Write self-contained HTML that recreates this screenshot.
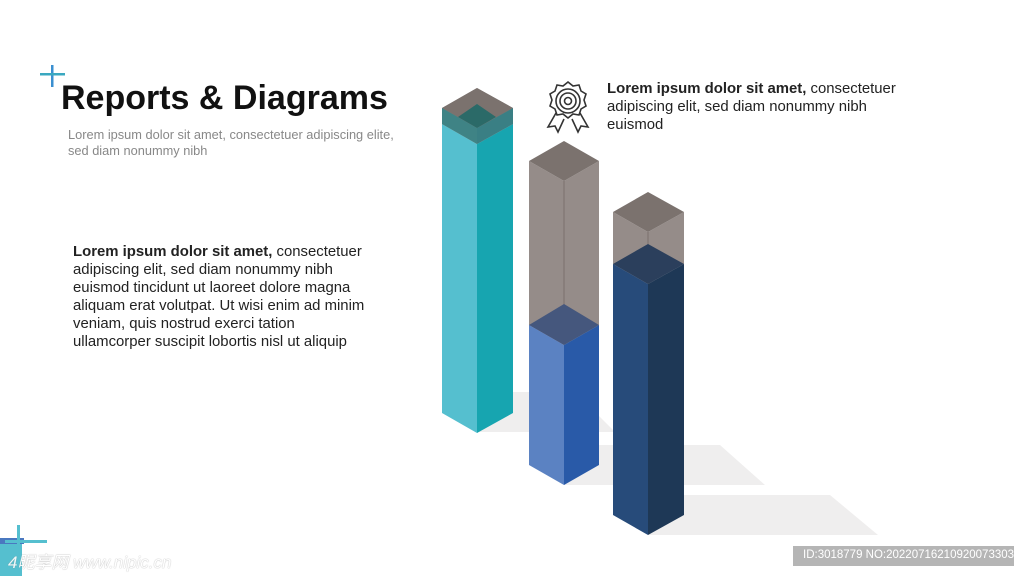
<!DOCTYPE html>
<html><head><meta charset="utf-8"><style>
body{margin:0;width:1024px;height:576px;background:#fff;position:relative;overflow:hidden;font-family:"Liberation Sans",Arial,sans-serif;}
.t{position:absolute;white-space:nowrap;}
</style></head><body>
<svg width="1024" height="576" style="position:absolute;left:0;top:0">
<rect x="51" y="65" width="2.5" height="22" fill="#3a8fd0"/>
<rect x="40" y="73" width="25" height="2.5" fill="#3aa8c0"/>
<polygon points="477,432 513,412 513,392 575,392 615,432" fill="#efeeee"/>
<polygon points="564,485 599,465 599,445 720,445 765,485" fill="#efeeee"/>
<polygon points="648,535 684,515 684,495 830,495 878,535" fill="#efeeee"/>
<!-- bar1 -->
<polygon points="442,124 477,144 477,433 442,413" fill="#55bfcf"/>
<polygon points="477,144 513,124 513,413 477,433" fill="#17a5b0"/>
<polygon points="442,108 477,88 513,108 513,124 477,144 442,124" fill="#8d8581"/>
<polygon points="442,108 477,128 513,108 477,88" fill="#7b726e"/>
<polygon points="458,117 477,104 496,117 477,128" fill="#2b6a68"/>
<polygon points="442,124 477,144 477,128 442,108" fill="#3f8385"/>
<polygon points="477,144 513,124 513,108 477,128" fill="#3a7f84"/>
<!-- bar2 -->
<polygon points="529,161 564,181 564,345 529,325" fill="#958c89"/>
<polygon points="564,181 599,161 599,325 564,345" fill="#958c89"/>
<polygon points="529,161 564,141 599,161 564,181" fill="#7b726e"/>
<line x1="564" y1="181" x2="564" y2="325" stroke="#7a716d" stroke-width="1"/>
<polygon points="529,325 564,345 564,485 529,465" fill="#5b82c2"/>
<polygon points="564,345 599,325 599,465 564,485" fill="#295aa8"/>
<polygon points="529,325 564,304 599,325 564,345" fill="#45577d"/>
<!-- bar3 -->
<polygon points="613,212 648,232 648,284 613,264" fill="#958c89"/>
<polygon points="648,232 684,212 684,264 648,284" fill="#958c89"/>
<polygon points="613,212 648,192 684,212 648,232" fill="#7b726e"/>
<line x1="648" y1="232" x2="648" y2="250" stroke="#7a716d"/>
<polygon points="613,264 648,284 648,535 613,515" fill="#274b7a"/>
<polygon points="648,284 684,264 684,515 648,535" fill="#1e3856"/>
<polygon points="613,264 648,244 684,264 648,284" fill="#2b3f5c"/>
<g fill="none" stroke="#333" stroke-width="1.6">
<path d="M568,82 l5,4 6,-1 2,6 5,3 -2,6 2,6 -5,3 -2,6 -6,-1 -5,4 -5,-4 -6,1 -2,-6 -5,-3 2,-6 -2,-6 5,-3 2,-6 6,1z"/>
<circle cx="568" cy="101" r="12"/><circle cx="568" cy="101" r="8"/><circle cx="568" cy="101" r="3.5"/>
<path d="M556,113 l-8,14 7,-1 3,6 6,-13"/><path d="M580,113 l8,14 -7,-1 -3,6 -6,-13"/>
</g>
<rect x="0" y="540" width="22" height="36" fill="#55bfcf"/>
<rect x="0" y="538" width="24" height="6" fill="#4a78c0"/>
<rect x="17" y="525" width="3" height="51" fill="#55bfcf"/>
<rect x="5" y="540" width="42" height="3" fill="#55bfcf"/>
<rect x="793" y="546" width="221" height="20" fill="#b5b5b5"/>
</svg>
<div class="t" style="left:61px;top:79px;font-size:34px;font-weight:bold;color:#111">Reports &amp; Diagrams</div>
<div class="t" style="left:68px;top:127px;font-size:12.8px;line-height:16px;color:#888">Lorem ipsum dolor sit amet, consectetuer adipiscing elite,<br>sed diam nonummy nibh</div>
<div class="t" style="left:73px;top:243px;font-size:14.9px;line-height:18px;color:#222"><b>Lorem ipsum dolor sit amet,</b> consectetuer<br>adipiscing elit, sed diam nonummy nibh<br>euismod tincidunt ut laoreet dolore magna<br>aliquam erat volutpat. Ut wisi enim ad minim<br>veniam, quis nostrud exerci tation<br>ullamcorper suscipit lobortis nisl ut aliquip</div>
<div class="t" style="left:607px;top:80px;font-size:14.9px;line-height:18px;color:#222"><b>Lorem ipsum dolor sit amet,</b> consectetuer<br>adipiscing elit, sed diam nonummy nibh<br>euismod</div>
<div class="t" style="left:8px;top:548px;font-size:17px;color:#fff;font-style:italic;font-family:'Liberation Sans','Noto Sans CJK SC',sans-serif;opacity:0.9;text-shadow:0 0 1px #888">4昵享网 www.nipic.cn</div>
<div class="t" style="left:803px;top:549px;font-size:11.5px;color:#fff">ID:3018779 NO:20220716210920073303</div>
</body></html>
